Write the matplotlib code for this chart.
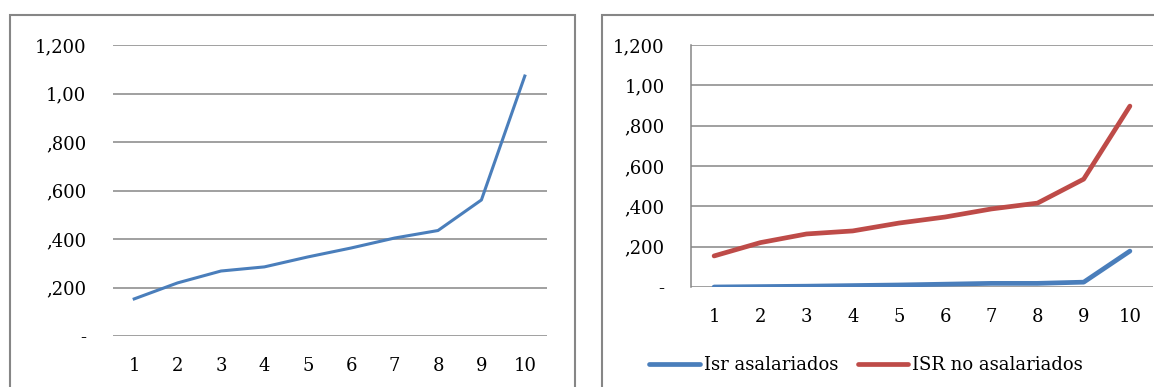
import matplotlib
matplotlib.use("Agg")
import matplotlib.pyplot as plt
from matplotlib.patches import Rectangle

# deciles and their values
deciles = [1, 2, 3, 4, 5, 6, 7, 8, 9, 10]
total = [0.153, 0.219, 0.268, 0.285, 0.326, 0.363, 0.404, 0.435, 0.561, 1.072]
isr_asalariados = [0.0, 0.002, 0.004, 0.007, 0.010, 0.014, 0.018, 0.018, 0.024, 0.178]
isr_no_asalariados = [0.154, 0.220, 0.263, 0.278, 0.317, 0.347, 0.387, 0.416, 0.535, 0.897]

y_ticks = [0, 0.2, 0.4, 0.6, 0.8, 1.0, 1.2]
y_labels = ["-", ",200", ",400", ",600", ",800", "1,00", "1,200"]

BLUE = "#4A7EBB"
RED = "#BE4B48"
GRID = "#868686"

plt.rcParams["font.family"] = "DejaVu Serif"
plt.rcParams["font.size"] = 13

W, H = 1154, 387
fig = plt.figure(figsize=(W / 100, H / 100), dpi=100)


def px_axes(x0, x1, ytop, ybot):
    return fig.add_axes([x0 / W, (H - ybot) / H, (x1 - x0) / W, (ybot - ytop) / H])


def style(ax, left_spine):
    ax.set_xlim(0.5, 10.5)
    ax.set_ylim(0, 1.2)
    ax.set_yticks(y_ticks)
    ax.set_yticklabels(y_labels)
    ax.set_xticks(deciles)
    ax.tick_params(length=0, pad=19)
    ax.tick_params(axis="x", pad=15)
    for s in ax.spines.values():
        s.set_visible(False)
    if left_spine:
        ax.spines["left"].set_visible(True)
        ax.spines["left"].set_color(GRID)
        ax.spines["left"].set_linewidth(1.1)
    ax.grid(axis="y", color=GRID, linewidth=1.1)
    ax.set_axisbelow(True)


# panel frames
for x0, x1 in [(10, 575), (602, 1170)]:
    fig.patches.append(Rectangle((x0 / W, -0.2), (x1 - x0) / W, 1.2 - 15 / H,
                                 transform=fig.transFigure, fill=False,
                                 edgecolor=GRID, linewidth=1.5))

ax1 = px_axes(112.5, 546.5, 45, 336)
style(ax1, False)
ax1.plot(deciles, total, color=BLUE, linewidth=2.2)

ax2 = px_axes(691, 1153, 45, 287)
style(ax2, True)
ax2.plot(deciles, isr_asalariados, color=BLUE, linewidth=3.4,
         solid_capstyle="round", label="Isr asalariados")
ax2.plot(deciles, isr_no_asalariados, color=RED, linewidth=3.4,
         solid_capstyle="round", label="ISR no asalariados")
ax2.legend(loc="center", bbox_to_anchor=(866 / W, (H - 365) / H),
           bbox_transform=fig.transFigure, ncol=2, frameon=False,
           handlelength=2.8, handletextpad=0.2, columnspacing=1.1,
           borderaxespad=0, borderpad=0)

fig.savefig("out.png", dpi=100)
